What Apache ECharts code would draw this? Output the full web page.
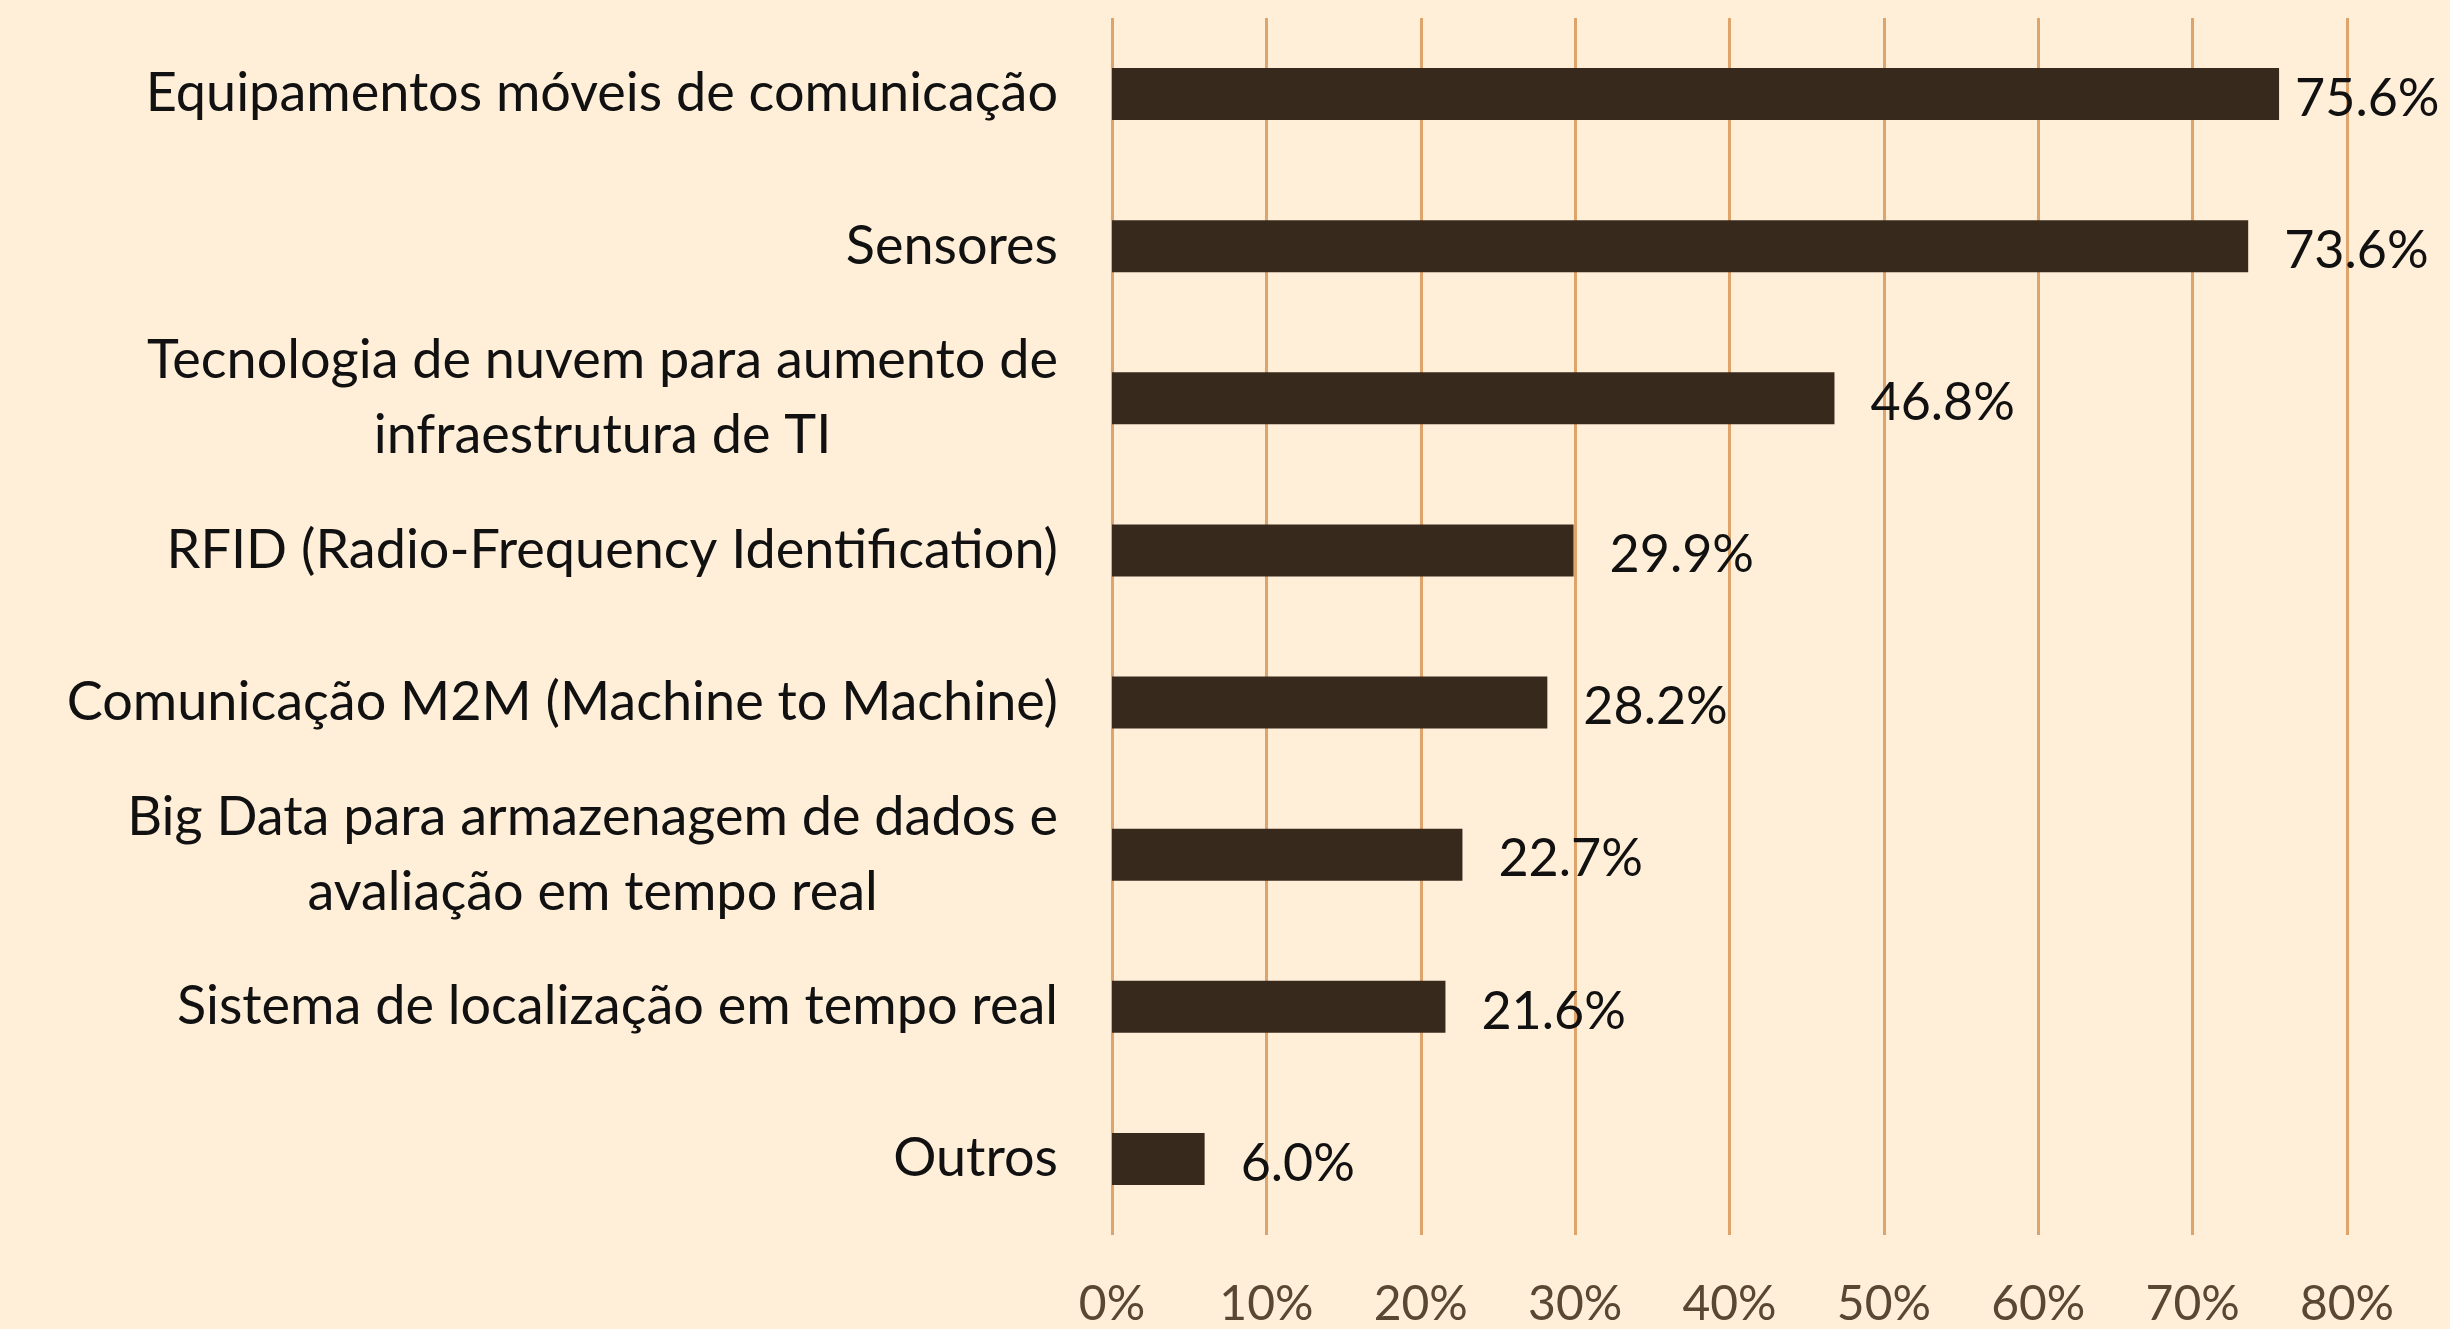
<!DOCTYPE html>
<html>
<head>
<meta charset="utf-8">
<script src="https://cdn.jsdelivr.net/npm/echarts@6/dist/echarts.min.js"></script>
<style>
  html, body { margin: 0; padding: 0; background: #FFEED8; }
  #chart { width: 2450px; height: 1329px; }
</style>
</head>
<body>
<div id="chart"></div>
<script>
// categorias (de cima para baixo)
const categories = [
  'Equipamentos móveis de comunicação',
  'Sensores',
  'Tecnologia de nuvem para aumento de\ninfraestrutura de TI',
  'RFID (Radio-Frequency Identification)',
  'Comunicação M2M (Machine to Machine)',
  'Big Data para armazenagem de dados e\navaliação em tempo real',
  'Sistema de localização em tempo real',
  'Outros'
];
// valores em %
const values = [75.6, 73.6, 46.8, 29.9, 28.2, 22.7, 21.6, 6.0];
const xTicks = [0, 10, 20, 30, 40, 50, 60, 70, 80];

const FONT = 'Lato';
const chart = echarts.init(document.getElementById('chart'));

const option = {
  backgroundColor: '#FFEED8',
  animation: false,
  grid: {
    left: 1112,
    right: 103,
    top: 18,
    bottom: 88
  },
  xAxis: {
    type: 'value',
    min: xTicks[0],
    max: xTicks[xTicks.length - 1],
    interval: 10,
    axisLine: { show: false },
    axisTick: { show: false },
    axisLabel: {
      formatter: '{value}%',
      color: '#5A4733',
      fontFamily: FONT,
      fontSize: 48,
      margin: 46
    },
    splitLine: {
      show: true,
      lineStyle: { color: '#DFA46C', width: 3 }
    }
  },
  yAxis: {
    type: 'category',
    inverse: true,
    data: categories,
    axisLine: { show: false },
    axisTick: { show: false },
    axisLabel: {
      margin: 54,
      color: '#111',
      fontFamily: FONT,
      fontSize: 54,
      formatter: function (v) {
        return v.split('\n').map(function (l) { return '{c|' + l + '}'; }).join('\n');
      },
      rich: {
        c: {
          align: 'center',
          color: '#111',
          fontFamily: FONT,
          fontSize: 54,
          lineHeight: 75
        }
      }
    }
  },
  series: [{
    type: 'bar',
    // o primeiro rótulo fica mais perto da barra, como no original
    data: values.map(function (v, i) {
      return i === 0 ? { value: v, label: { distance: 16 } } : v;
    }),
    barWidth: 52,
    itemStyle: { color: '#38291D' },
    label: {
      show: true,
      position: 'right',
      distance: 36,
      offset: [0, 5],
      color: '#111',
      fontFamily: FONT,
      fontSize: 52,
      formatter: function (p) { return p.value.toFixed(1) + '%'; }
    }
  }]
};

chart.setOption(option);
</script>
</body>
</html>
